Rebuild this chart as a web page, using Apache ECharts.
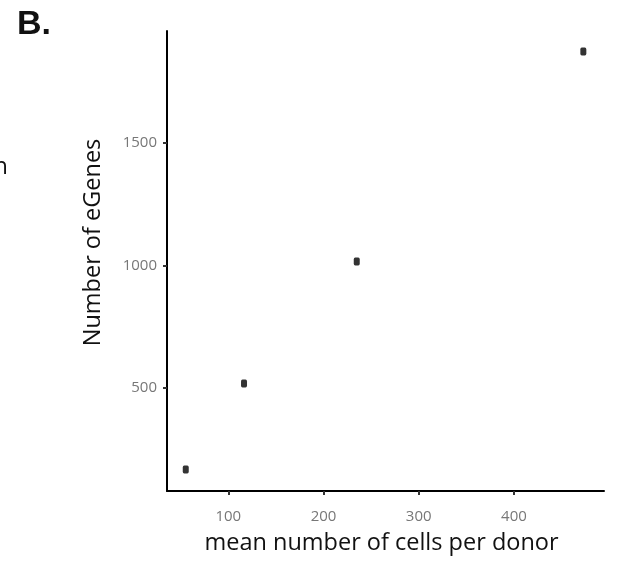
<!DOCTYPE html>
<html>
<head>
<meta charset="utf-8">
<script src="https://cdn.jsdelivr.net/npm/echarts@6/dist/echarts.min.js"></script>
<style>
  html, body { margin: 0; padding: 0; background: #fff; }
  #chart { width: 621px; height: 562px; }
</style>
</head>
<body>
<div id="chart"></div>
<script>
// Mean cells per donor vs number of eGenes detected
const cellsPerDonor = [55.3, 116.5, 234.9, 472.9];
const eGeneCounts = [167, 518, 1016, 1873];
const xTicks = [100, 200, 300, 400];
const yTicks = [500, 1000, 1500];
const xTitle = 'mean number of cells per donor';
const yTitle = 'Number of eGenes';

const chart = echarts.init(document.getElementById('chart'), null, { renderer: 'canvas' });
const points = cellsPerDonor.map((x, i) => [x, eGeneCounts[i]]);
const tickFont = { color: '#777777', fontSize: 15, fontFamily: 'Open Sans', formatter: v => String(v) };
const titleFont = '23.5px "Open Sans"';

chart.setOption({
  animation: false,
  backgroundColor: '#ffffff',
  grid: { left: 167, right: 17, top: 31, bottom: 71, containLabel: false, outerBoundsMode: 'none' },
  xAxis: {
    type: 'value',
    min: 35.6,
    max: 494.6,
    axisLine: { show: true, lineStyle: { color: '#000', width: 2 } },
    axisTick: { show: true, length: 4, customValues: xTicks, lineStyle: { color: '#333', width: 2 } },
    axisLabel: Object.assign({ margin: 18, customValues: xTicks }, tickFont),
    splitLine: { show: false }
  },
  yAxis: {
    type: 'value',
    min: 79.6,
    max: 1957,
    axisLine: { show: true, lineStyle: { color: '#000', width: 2 } },
    axisTick: { show: true, length: 4, customValues: yTicks, lineStyle: { color: '#333', width: 2 } },
    axisLabel: Object.assign({ margin: 10, customValues: yTicks }, tickFont),
    splitLine: { show: false }
  },
  series: [{
    type: 'scatter',
    data: points,
    symbol: 'roundRect',
    symbolSize: [6, 8],
    itemStyle: { color: '#000' }
  }],
  graphic: [
    { type: 'text', left: 17, top: 8, style: { text: 'B.', font: 'bold 34px "Liberation Sans", Arial, sans-serif', fill: '#111' } },
    { type: 'text', x: 8, y: 155, style: { text: 'n', font: titleFont, fill: '#111', align: 'right' } },
    { type: 'text', x: 381.5, y: 543, style: { text: xTitle, font: titleFont, fill: '#111', align: 'center', verticalAlign: 'middle' } },
    { type: 'text', x: 93, y: 242.5, rotation: Math.PI / 2, style: { text: yTitle, font: titleFont, fill: '#111', align: 'center', verticalAlign: 'middle' } }
  ]
});
</script>
</body>
</html>
